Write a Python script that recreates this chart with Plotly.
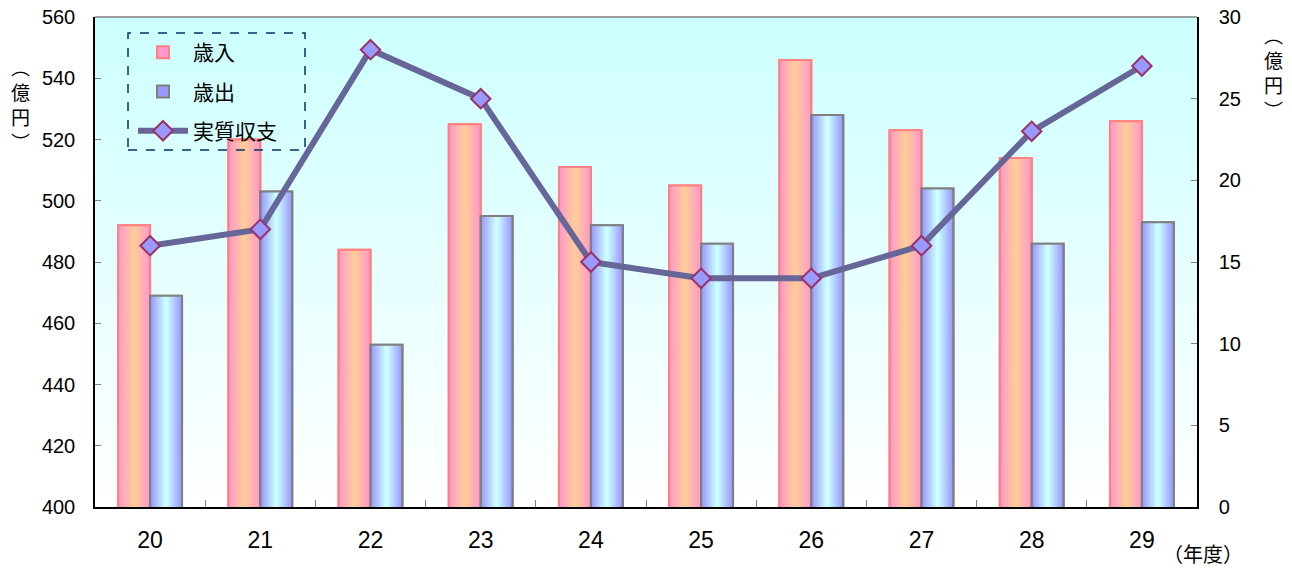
import plotly.graph_objects as go
import numpy as np

# ---- data ----
years = ['20', '21', '22', '23', '24', '25', '26', '27', '28', '29']
revenue = [492, 520, 484, 525, 511, 505, 546, 523, 514, 526]        # 歳入 (億円)
expenditure = [469, 503, 453, 495, 492, 486, 528, 504, 486, 493]    # 歳出 (億円)
balance = [16, 17, 28, 25, 15, 14, 14, 16, 23, 27]                  # 実質収支 (億円)

Y_MIN, Y_MAX, Y_STEP = 400, 560, 20
Y2_MIN, Y2_MAX, Y2_STEP = 0, 30, 5

FONT = "Liberation Sans, Noto Sans CJK JP"

W, H = 1292, 569
ML, MR, MT, MB = 95, 95, 17, 62
PW, PH = W - ML - MR, H - MT - MB


def px_x(p):
    return (p - ML) / PW


def px_y(p):
    return (H - MB - p) / PH


def hex2rgb(h):
    h = h.lstrip('#')
    return tuple(int(h[i:i + 2], 16) for i in (0, 2, 4))


def interp(c1, c2, t):
    a, b = hex2rgb(c1), hex2rgb(c2)
    return 'rgb(%d,%d,%d)' % tuple(round(a[k] + (b[k] - a[k]) * t) for k in range(3))


x = np.arange(len(years))
fig = go.Figure()

# background vertical gradient (white bottom -> light cyan top)
nb = 160
yb = np.linspace(Y_MIN, Y_MAX, nb + 1)
zb = ((yb[:-1] + yb[1:]) / 2)[:, None]
fig.add_trace(go.Heatmap(x=[x[0] - 0.5, x[-1] + 0.5], y=yb, z=zb, zmin=Y_MIN, zmax=Y_MAX,
                         colorscale=[[0, '#ffffff'], [1, '#ccffff']], showscale=False,
                         hoverinfo='skip', showlegend=False))

w = 0.29
N = 12
series = [
    ('歳入', revenue, '#ff99cc', '#ffcc99', '#ff8080', -1),
    ('歳出', expenditure, '#9999ff', '#ccffff', '#808080', 1),
]
for name, vals, edge, center, outline, sign in series:
    for i in range(N):
        t = i / (N - 1)
        wi = w * (1 - i / N)
        fig.add_trace(go.Bar(
            x=x, y=vals, width=wi, offset=sign * w / 2 - wi / 2,
            marker=dict(color=interp(edge, center, t),
                        line=dict(color=outline, width=2 if i == 0 else 0)),
            name=name, legendgroup=name, showlegend=(i == 0), hoverinfo='skip'))
    fig.add_trace(go.Bar(
        x=x, y=vals, width=w, offset=sign * w / 2 - w / 2,
        marker=dict(color='rgba(0,0,0,0)', line=dict(color=outline, width=2)),
        name=name, legendgroup=name, showlegend=False))

fig.add_trace(go.Scatter(
    x=x, y=balance, yaxis='y2', mode='lines+markers', name='実質収支', legendgroup='実質収支',
    line=dict(color='#666699', width=6),
    marker=dict(symbol='diamond', size=15, color='#9999ff', line=dict(color='#993366', width=2))))

fig.update_layout(
    width=W, height=H, margin=dict(l=ML, r=MR, t=MT, b=MB, pad=0, autoexpand=False),
    barmode='overlay', paper_bgcolor='white', plot_bgcolor='white',
    font=dict(family=FONT, color='black'),
    xaxis=dict(range=[x[0] - 0.5, x[-1] + 0.5], tickmode='array', tickvals=x, ticktext=years,
               ticks='', showgrid=False, zeroline=False, showline=True, linecolor='black',
               linewidth=1.5, tickfont=dict(size=23), ticklabelstandoff=12, automargin=False,
               minor=dict(tickmode='array', tickvals=list(x[:-1] + 0.5), ticks='inside',
                          ticklen=7, tickcolor='#808080', tickwidth=1, showgrid=False)),
    yaxis=dict(range=[Y_MIN, Y_MAX], dtick=Y_STEP, tick0=Y_MIN, ticks='inside', ticklen=6,
               tickcolor='#808080', showgrid=False, zeroline=False, showline=True,
               linecolor='black', linewidth=1.5, tickfont=dict(size=20), ticklabelstandoff=14,
               automargin=False),
    yaxis2=dict(range=[Y2_MIN, Y2_MAX], dtick=Y2_STEP, tick0=Y2_MIN, overlaying='y', side='right',
                ticks='inside', ticklen=6, tickcolor='#808080', showgrid=False, zeroline=False,
                showline=True, linecolor='black', linewidth=1.5, tickfont=dict(size=20),
                ticklabelstandoff=16, automargin=False),
    legend=dict(x=px_x(133), y=px_y(32), xanchor='left', yanchor='top',
                bgcolor='rgba(0,0,0,0)', borderwidth=0, font=dict(size=21),
                tracegroupgap=9, traceorder='grouped', itemwidth=50),
    showlegend=True,
)

# top border of plot area (gray) and dashed legend frame
fig.add_shape(type='line', xref='paper', yref='paper', x0=0, x1=1, y0=1, y1=1,
              line=dict(color='#808080', width=1.5))
fig.add_shape(type='rect', xref='paper', yref='paper', x0=px_x(128), x1=px_x(305),
              y0=px_y(150), y1=px_y(33), line=dict(color='#003366', width=1.5, dash='dash'))

# vertical unit labels (one character per annotation)
unit_chars = ['︵', '億', '円', '︶']
for cx, cy in [(20, 104), (1273, 72)]:
    for k, ch in enumerate(unit_chars):
        fig.add_annotation(text=ch, xref='paper', yref='paper', x=px_x(cx),
                           y=px_y(cy + (k - 1.5) * 25), showarrow=False,
                           font=dict(size=19, family='Noto Sans CJK JP'),
                           xanchor='center', yanchor='middle')
fig.add_annotation(text='（年度）', xref='paper', yref='paper', x=px_x(1203), y=px_y(553),
                   showarrow=False, font=dict(size=20, family='Noto Sans CJK JP'),
                   xanchor='center', yanchor='middle')

fig.write_html("out.html", config={'displayModeBar': False},
               post_script="document.body.style.margin='0';document.body.style.overflow='hidden';")
